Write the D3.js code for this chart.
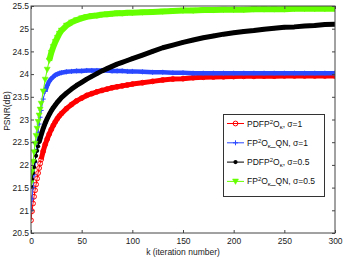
<!DOCTYPE html>
<html>
<head>
<meta charset="utf-8">
<script src="https://cdn.jsdelivr.net/npm/d3@7"></script>
<style>
  body { margin: 0; background: #fff; }
  svg { display: block; font-family: "Liberation Sans", Arial, sans-serif; }
</style>
</head>
<body>
<svg id="chart" width="346" height="258"></svg>
<script>
// PSNR vs iteration number, four algorithm runs

const kValues = [0, 1, 2, 3, 4, 5, 6, 7, 8, 9, 10,
    12, 14, 16, 18, 20, 22, 24, 26, 28, 30,
    35, 40, 45, 50, 55, 60, 65, 70, 75, 80, 85, 90, 95, 100,
    110, 120, 130, 140, 150, 160, 170, 180, 190, 200,
    210, 220, 230, 240, 250, 260, 270, 280, 290, 300];

const psnrPdfpSigma1 = [20.78, 20.98, 21.15, 21.30, 21.44, 21.57, 21.70, 21.82, 21.93, 22.03, 22.12,
    22.30, 22.45, 22.57, 22.68, 22.78, 22.87, 22.95, 23.02, 23.08, 23.13,
    23.24, 23.33, 23.41, 23.47, 23.53, 23.57, 23.61, 23.64, 23.67, 23.70, 23.72, 23.74, 23.76, 23.78,
    23.81, 23.84, 23.87, 23.89, 23.90, 23.92, 23.93, 23.935, 23.94, 23.945,
    23.95, 23.95, 23.955, 23.955, 23.96, 23.96, 23.96, 23.96, 23.96, 23.96];

const psnrQnSigma1 = [21.00, 21.25, 21.50, 21.78, 22.05, 22.30, 22.52, 22.72, 22.90, 23.05, 23.20,
    23.45, 23.62, 23.75, 23.84, 23.90, 23.94, 23.98, 24.00, 24.02, 24.03,
    24.05, 24.06, 24.07, 24.07, 24.08, 24.08, 24.08, 24.08, 24.08, 24.07, 24.07, 24.07, 24.06, 24.06,
    24.05, 24.04, 24.04, 24.03, 24.03, 24.02, 24.02, 24.02, 24.02, 24.02,
    24.02, 24.02, 24.02, 24.02, 24.02, 24.02, 24.02, 24.02, 24.02, 24.02];

const psnrPdfpSigma05 = [21.52, 21.68, 21.82, 21.95, 22.08, 22.20, 22.31, 22.41, 22.50, 22.58, 22.66,
    22.80, 22.92, 23.02, 23.11, 23.19, 23.26, 23.32, 23.38, 23.43, 23.48,
    23.58, 23.67, 23.75, 23.82, 23.89, 23.95, 24.01, 24.07, 24.12, 24.17, 24.22, 24.26, 24.30, 24.34,
    24.42, 24.50, 24.58, 24.64, 24.70, 24.75, 24.80, 24.84, 24.88, 24.91,
    24.94, 24.96, 24.99, 25.01, 25.03, 25.04, 25.06, 25.07, 25.09, 25.10];

const psnrQnSigma05 = [21.60, 21.85, 22.07, 22.28, 22.47, 22.64, 22.80, 22.95, 23.09, 23.22, 23.35,
    23.62, 23.88, 24.10, 24.30, 24.47, 24.60, 24.71, 24.80, 24.89, 24.96,
    25.07, 25.14, 25.19, 25.23, 25.26, 25.28, 25.29, 25.31, 25.32, 25.33, 25.34, 25.34, 25.35, 25.35,
    25.36, 25.37, 25.38, 25.39, 25.40, 25.40, 25.41, 25.41, 25.42, 25.42,
    25.42, 25.43, 25.43, 25.43, 25.43, 25.44, 25.44, 25.44, 25.44, 25.44];

const seriesNames = ["PDFP^2O_κ, σ=1", "FP^2O_κ\\_QN, σ=1", "PDFP^2O_κ, σ=0.5", "FP^2O_κ\\_QN, σ=0.5"];

const xTicks = [0, 50, 100, 150, 200, 250, 300];
const yTicks = [20.5, 21, 21.5, 22, 22.5, 23, 23.5, 24, 24.5, 25, 25.5];

// styles (marker type, colour, band width, k from which markers merge into a band)
const styles = [
    { marker: "circle", color: "#ff0000", band: 5, bandFrom: 10 },
    { marker: "plus", color: "#2a48ff", band: 4.5, bandFrom: 14 },
    { marker: "dot", color: "#000000", band: 5, bandFrom: 8 },
    { marker: "tri", color: "#66ff00", band: 6, bandFrom: 18 }
];

const series = [psnrPdfpSigma1, psnrQnSigma1, psnrPdfpSigma05, psnrQnSigma05].map((vals, i) => ({
    name: seriesNames[i],
    style: styles[i],
    points: vals.map((v, j) => ({ k: kValues[j], v: v }))
}));

const svg = d3.select("#chart");
const margin = { left: 31, right: 11, top: 6, bottom: 25 };
const W = 346, H = 258;

const x = d3.scaleLinear().domain([0, 300]).range([margin.left, W - margin.right]);
const y = d3.scaleLinear().domain([20.5, 25.5]).range([H - margin.bottom, margin.top]);

const axisColor = "#444";
const fontSize = 8.5;

// clip the curves to the plot box
svg.append("clipPath").attr("id", "plotclip")
    .append("rect")
    .attr("x", x(0)).attr("y", y(25.5))
    .attr("width", x(300) - x(0)).attr("height", y(20.5) - y(25.5));

function drawMarker(g, type, cx, cy, color) {
    if (type === "circle") {
        g.append("circle").attr("cx", cx).attr("cy", cy).attr("r", 2.4)
            .attr("fill", "none").attr("stroke", color).attr("stroke-width", 1);
    } else if (type === "plus") {
        g.append("path").attr("d", `M${cx - 2.5},${cy}H${cx + 2.5}M${cx},${cy - 2.5}V${cy + 2.5}`)
            .attr("stroke", color).attr("stroke-width", 1).attr("fill", "none");
    } else if (type === "dot") {
        g.append("circle").attr("cx", cx).attr("cy", cy).attr("r", 2.1).attr("fill", color);
    } else if (type === "tri") {
        g.append("path").attr("d", `M${cx - 3},${cy - 2.4}L${cx + 3},${cy - 2.4}L${cx},${cy + 3}Z`)
            .attr("fill", color).attr("stroke", color).attr("stroke-width", 0.5);
    }
}

const line = d3.line().x(d => x(d.k)).y(d => y(d.v));

const plot = svg.append("g").attr("clip-path", "url(#plotclip)");

series.forEach(s => {
    const g = plot.append("g");
    g.append("path").datum(s.points).attr("d", line)
        .attr("fill", "none").attr("stroke", s.style.color).attr("stroke-width", 1);
    g.append("path").datum(s.points.filter(d => d.k >= s.style.bandFrom)).attr("d", line)
        .attr("fill", "none").attr("stroke", s.style.color)
        .attr("stroke-width", s.style.band).attr("stroke-linejoin", "round");
    s.points.forEach(d => drawMarker(g, s.style.marker, x(d.k), y(d.v), s.style.color));
});

// axes, ticks pointing inward on all four sides
function styleAxis(g) {
    g.select(".domain").remove();
    g.selectAll(".tick line").attr("stroke", axisColor);
    g.selectAll(".tick text").attr("fill", "#222").style("font-size", fontSize + "px")
        .style("font-family", '"Liberation Sans", Arial, sans-serif');
}

svg.append("g").attr("transform", `translate(0,${y(20.5)})`)
    .call(d3.axisBottom(x).tickValues(xTicks).tickSize(-3).tickPadding(5).tickFormat(d3.format("d")))
    .call(styleAxis);
svg.append("g").attr("transform", `translate(0,${y(25.5)})`)
    .call(d3.axisTop(x).tickValues(xTicks).tickSize(-3).tickFormat(""))
    .call(styleAxis);
svg.append("g").attr("transform", `translate(${x(0)},0)`)
    .call(d3.axisLeft(y).tickValues(yTicks).tickSize(-3).tickPadding(2).tickFormat(d3.format("~g")))
    .call(styleAxis);
svg.append("g").attr("transform", `translate(${x(300)},0)`)
    .call(d3.axisRight(y).tickValues(yTicks).tickSize(-3).tickFormat(""))
    .call(styleAxis);

svg.append("rect")
    .attr("x", x(0)).attr("y", y(25.5))
    .attr("width", x(300) - x(0)).attr("height", y(20.5) - y(25.5))
    .attr("fill", "none").attr("stroke", axisColor).attr("stroke-width", 1);

// axis titles
svg.append("text")
    .attr("x", (x(0) + x(300)) / 2).attr("y", 255)
    .attr("text-anchor", "middle").attr("fill", "#222")
    .style("font-size", fontSize + "px")
    .text("k (iteration number)");

svg.append("text")
    .attr("transform", "rotate(-90)")
    .attr("x", -111).attr("y", 10)
    .attr("text-anchor", "middle").attr("fill", "#222")
    .style("font-size", fontSize + "px")
    .text("PSNR(dB)");

// tex-like label: ^c superscript, _c subscript, \_ literal underscore
function texLabel(textSel, str) {
    let i = 0, buf = "";
    const flush = () => { if (buf) { textSel.append("tspan").text(buf); buf = ""; } };
    while (i < str.length) {
        const c = str[i];
        if (c === "\\" && str[i + 1] === "_") { buf += "_"; i += 2; continue; }
        if (c === "^" || c === "_") {
            flush();
            textSel.append("tspan")
                .attr("baseline-shift", c === "^" ? "3.2" : "-2.4")
                .style("font-size", "6px")
                .text(str[i + 1]);
            i += 2;
            continue;
        }
        buf += c;
        i++;
    }
    flush();
}

// legend
const legend = svg.append("g");
const lx = 223, ly = 114, lw = 101, lh = 82;
legend.append("rect")
    .attr("x", lx + 0.5).attr("y", ly + 0.5).attr("width", lw).attr("height", lh)
    .attr("fill", "#fff").attr("stroke", "#333").attr("stroke-width", 1);

series.forEach((s, i) => {
    const cy = ly + 9.5 + i * 19.3;
    legend.append("line")
        .attr("x1", lx + 4).attr("x2", lx + 21).attr("y1", cy).attr("y2", cy)
        .attr("stroke", s.style.color).attr("stroke-width", 1);
    drawMarker(legend, s.style.marker, lx + 12.5, cy, s.style.color);
    const t = legend.append("text")
        .attr("x", lx + 24).attr("y", cy + 3)
        .attr("fill", "#111")
        .style("font-size", fontSize + "px");
    texLabel(t, s.name);
});
</script>
</body>
</html>
